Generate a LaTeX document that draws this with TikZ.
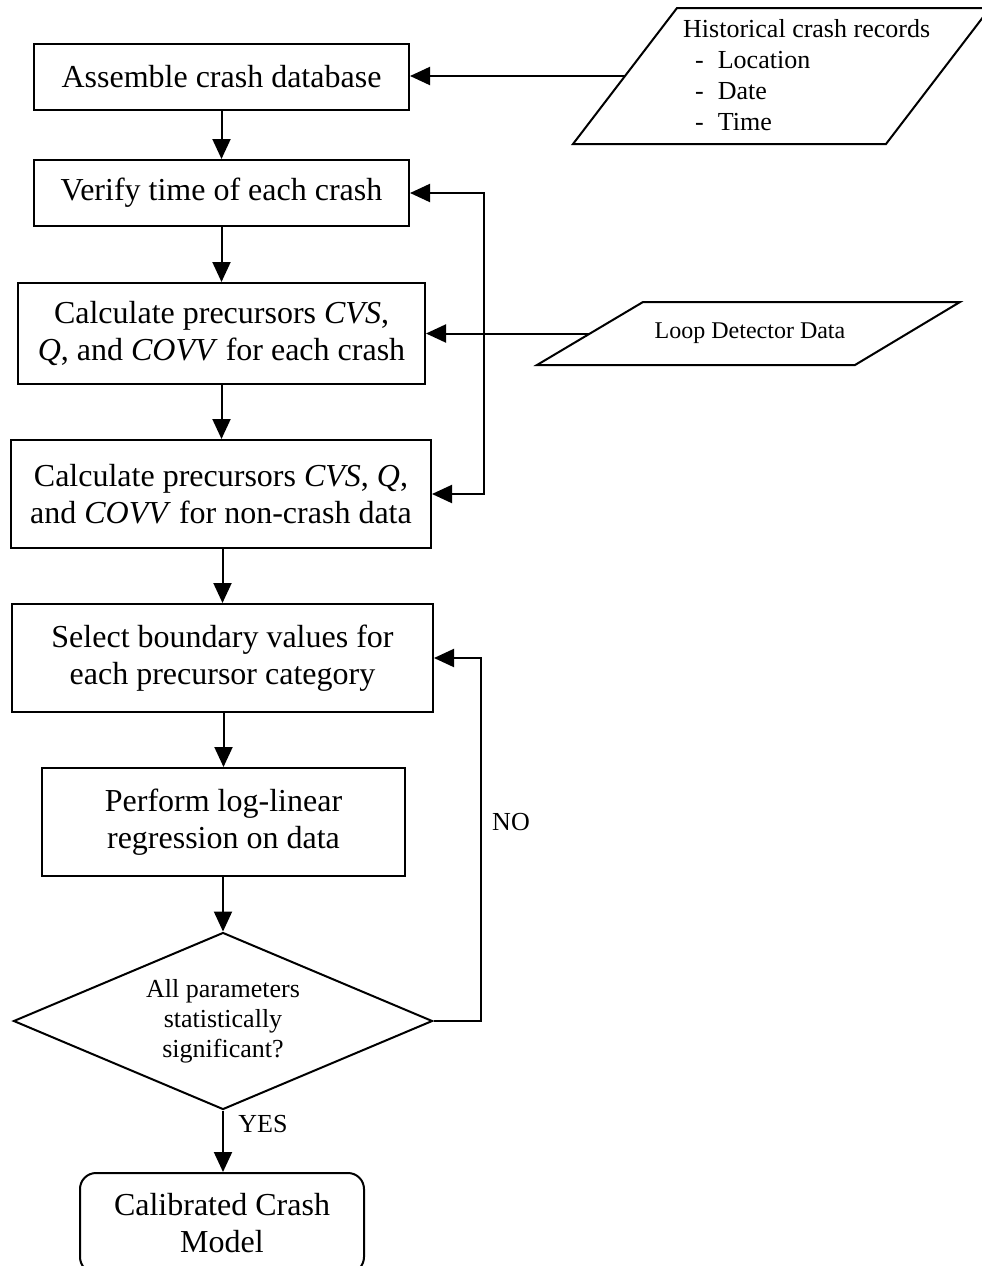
\documentclass[tikz,border=0pt]{standalone}
\usepackage{fontspec}
\setmainfont{Liberation Serif}
\usetikzlibrary{shapes.geometric,arrows.meta}
\begin{document}
\begin{tikzpicture}[x=1pt,y=-1pt,
  proc/.style={draw,line width=2pt,rectangle,align=center,font=\fontsize{32}{37}\selectfont,inner sep=0pt},
  arr/.style={line width=2pt,-{Triangle[length=20pt,width=18pt]}},
  ln/.style={line width=2pt},
  lbl/.style={font=\fontsize{26}{30}\selectfont,inner sep=0pt}]
\useasboundingbox (0,0) rectangle (982,1266);
% process boxes
\node[proc,minimum width=375pt,minimum height=66pt] (b1) at (221.5,77) {Assemble crash database};
\node[proc,minimum width=375pt,minimum height=66pt] (b2) at (221.5,193) {Verify time of each crash};
\node[proc,minimum width=407pt,minimum height=101pt] (b3) at (221.5,333.5) {Calculate precursors \textit{CVS},\\ \textit{Q}, and \textit{COVV} for each crash};
\node[proc,minimum width=420pt,minimum height=108pt] (b4) at (221,494) {Calculate precursors \textit{CVS}, \textit{Q},\\ and \textit{COVV} for non-crash data};
\node[proc,minimum width=421pt,minimum height=108pt] (b5) at (222.5,658) {Select boundary values for\\ each precursor category};
\node[proc,minimum width=363pt,minimum height=108pt] (b6) at (223.5,822) {Perform log-linear\\ regression on data};
\node[draw,line width=2pt,diamond,shape aspect=2.37,minimum width=419pt,minimum height=177pt,inner sep=0pt,align=center,font=\fontsize{26}{30}\selectfont] (dia) at (223,1021) {All parameters\\ statistically\\ significant?};
\node[proc,rounded corners=16pt,minimum width=284pt,minimum height=100pt] (term) at (222,1223) {Calibrated Crash\\ Model};
% data inputs
\draw[ln] (573,144) -- (677,8) -- (990,8) -- (886,144) -- cycle;
\node[lbl,anchor=north west,align=left,font=\fontsize{26}{31}\selectfont] (hist) at (683,19) {Historical crash records\\ \hspace*{12pt}-\hspace*{14pt}Location\\ \hspace*{12pt}-\hspace*{14pt}Date\\ \hspace*{12pt}-\hspace*{14pt}Time};
\coordinate (hL) at (625,76);
\draw[ln] (537,365) -- (643,302) -- (960,302) -- (855,365) -- cycle;
\node[lbl,font=\fontsize{24}{28}\selectfont] (loop) at (750,333.5) {Loop Detector Data};
\coordinate (lL) at (590,333.5);
% connectors
\draw[arr] (hL) -- (hL -| b1.east);
\draw[arr] (lL) -- (lL -| b3.east);
\draw[arr] (b1.south) -- (b2.north);
\draw[arr] (b2.south) -- (b3.north);
\draw[arr] (b3.south) -- (b4.north -| b3.south);
\draw[arr] (b5.north |- b4.south) -- (b5.north);
\draw[arr] (b5.south -| b6.north) -- (b6.north);
\draw[arr] (b6.south -| dia.north) -- (dia.north);
\draw[arr] (dia.south) -- (dia.south |- term.north);
\coordinate (vt) at (484,193);
\coordinate (vb) at (484,494);
\draw[arr] (vb) -- (vt) -- (vt -| b2.east);
\draw[arr] (vt) -- (vb) -- (vb -| b4.east);
\coordinate (nr) at (481,1021);
\draw[arr] (dia.east) -- (nr) |- (b5.east);
\node[lbl] (no) at (511,822) {NO};
\node[lbl] (yes) at (263,1124) {YES};
\end{tikzpicture}
\end{document}
